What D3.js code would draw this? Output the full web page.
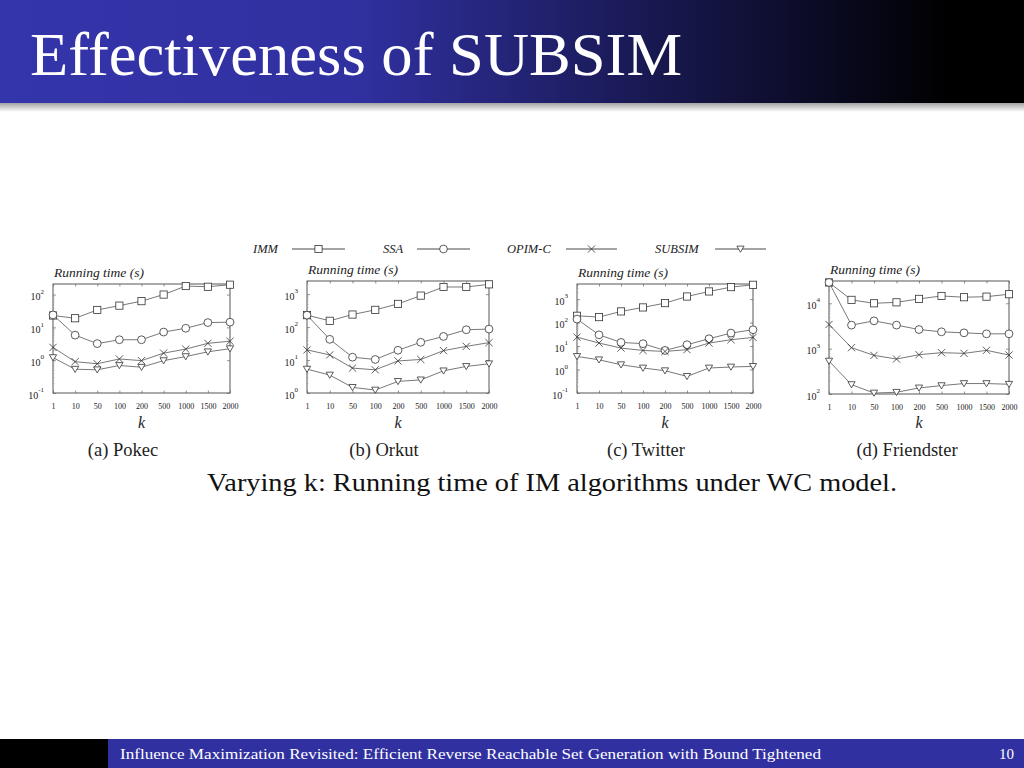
<!DOCTYPE html>
<html>
<head>
<meta charset="utf-8">
<script src="https://cdnjs.cloudflare.com/ajax/libs/d3/7.8.5/d3.min.js"></script>
<style>
  html, body { margin: 0; padding: 0; background: #fff; }
  svg { display: block; }
</style>
</head>
<body>
<svg id="slide" width="1024" height="768"></svg>
<script>
const K_LABELS = ['1', '10', '50', '100', '200', '500', '1000', '1500', '2000'];
const ALGOS = ['IMM', 'SSA', 'OPIM-C', 'SUBSIM'];
const MARKERS = ['square', 'circle', 'cross', 'triangle'];

// running time (s)
const POKEC = [
  [23, 19, 34, 46, 63, 100, 182, 173, 200],
  [24, 5.8, 3.2, 4.2, 4.2, 7.2, 9.4, 14, 14.4],
  [2.45, 0.9, 0.78, 1.09, 0.97, 1.64, 2.18, 3.27, 3.78],
  [1.2, 0.53, 0.51, 0.69, 0.61, 0.97, 1.29, 1.8, 2.24],
];
const ORKUT = [
  [230, 155, 240, 333, 505, 900, 1645, 1645, 1980],
  [230, 42.5, 12.2, 10.4, 19.8, 34.5, 52, 83, 87],
  [20.3, 14.3, 5.7, 5.05, 9.4, 10.4, 19.3, 26, 33.7],
  [5.3, 3.5, 1.48, 1.23, 2.25, 2.5, 4.7, 6.4, 7.7],
];
const TWITTER = [
  [195, 171, 299, 442, 676, 1290, 2120, 3240, 4070],
  [141, 30, 14.3, 12.6, 6.5, 11.4, 20.5, 35.7, 49.5],
  [24, 13.4, 8.2, 6.5, 5.9, 7.0, 13.4, 18.6, 23.4],
  [3.6, 2.6, 1.6, 1.16, 0.89, 0.51, 1.16, 1.28, 1.36],
];
const FRIENDSTER = [
  [28800, 11900, 10000, 10500, 12500, 14500, 13600, 14000, 15850],
  [28800, 3300, 4100, 3300, 2640, 2350, 2230, 2120, 2120],
  [3410, 1050, 710, 590, 735, 815, 787, 918, 723],
  [532, 161, 105, 109, 136, 153, 170, 170, 164],
];

const Y_DOMAINS = [[0.1, 210], [1, 2500], [0.1, 4400], [100, 31000]];
const CAPTIONS = ['(a) Pokec', '(b) Orkut', '(c) Twitter', '(d) Friendster'];

const panels = [
  { data: POKEC, box: [53, 284, 230, 393], cap: 123 },
  { data: ORKUT, box: [307, 281, 489, 393], cap: 384 },
  { data: TWITTER, box: [577, 284, 753, 393], cap: 646 },
  { data: FRIENDSTER, box: [829, 281, 1009, 394], cap: 907 },
];

const SERIF = '"Liberation Serif", "DejaVu Serif", serif';
const INK = '#333';
const svg = d3.select('#slide');

// ---- title bar ----
const defs = svg.append('defs');
const grad = defs.append('linearGradient').attr('id', 'tgrad');
grad.append('stop').attr('offset', '0%').attr('stop-color', '#3535ab');
grad.append('stop').attr('offset', '35%').attr('stop-color', '#3030a0');
grad.append('stop').attr('offset', '93%').attr('stop-color', '#000000');
grad.append('stop').attr('offset', '100%').attr('stop-color', '#000000');
const shadow = defs.append('linearGradient').attr('id', 'sgrad').attr('x1', 0).attr('x2', 0).attr('y1', 0).attr('y2', 1);
shadow.append('stop').attr('offset', '0%').attr('stop-color', '#999');
shadow.append('stop').attr('offset', '100%').attr('stop-color', '#fff');

svg.append('rect').attr('x', 0).attr('y', 102).attr('width', 1024).attr('height', 10).attr('fill', 'url(#sgrad)');
svg.append('rect').attr('x', 0).attr('y', 0).attr('width', 1024).attr('height', 103).attr('fill', 'url(#tgrad)');
svg.append('text').attr('x', 30).attr('y', 75)
  .attr('font-family', SERIF).attr('font-size', 62).attr('fill', '#fff')
  .attr('textLength', 652).attr('lengthAdjust', 'spacingAndGlyphs')
  .text('Effectiveness of SUBSIM');

// ---- footer ----
svg.append('rect').attr('x', 0).attr('y', 739).attr('width', 1024).attr('height', 29).attr('fill', '#3030a0');
svg.append('rect').attr('x', 0).attr('y', 739).attr('width', 108).attr('height', 29).attr('fill', '#000');
svg.append('text').attr('x', 120).attr('y', 759)
  .attr('font-family', SERIF).attr('font-size', 15).attr('fill', '#fff')
  .attr('textLength', 701).attr('lengthAdjust', 'spacingAndGlyphs')
  .text('Influence Maximization Revisited: Efficient Reverse Reachable Set Generation with Bound Tightened');
svg.append('text').attr('x', 1014).attr('y', 759).attr('text-anchor', 'end')
  .attr('font-family', SERIF).attr('font-size', 15).attr('fill', '#fff').text('10');

// ---- markers ----
function drawMarker(g, type, x, y) {
  const s = 3.6;
  let m;
  if (type === 'square') {
    m = g.append('rect').attr('x', x - s).attr('y', y - s).attr('width', 2 * s).attr('height', 2 * s);
  } else if (type === 'circle') {
    m = g.append('circle').attr('cx', x).attr('cy', y).attr('r', s + 0.3);
  } else if (type === 'cross') {
    m = g.append('path').attr('d', `M${x - s},${y - s}L${x + s},${y + s}M${x - s},${y + s}L${x + s},${y - s}`);
  } else {
    m = g.append('path').attr('d', `M${x - s},${y - s * 0.8}L${x + s},${y - s * 0.8}L${x},${y + s * 0.9}Z`);
  }
  m.attr('stroke', INK).attr('stroke-width', 0.8).attr('fill', type === 'cross' ? 'none' : '#fff');
}

// ---- legend ----
const legendX = [253, 383, 507, 655];
const legendLine = [[292, 345], [417, 470], [566, 617], [715, 766]];
ALGOS.forEach((a, i) => {
  const lg = svg.append('g');
  lg.append('text').attr('x', legendX[i]).attr('y', 253)
    .attr('font-family', SERIF).attr('font-style', 'italic').attr('font-size', 12.5).attr('fill', '#222').text(a);
  const [x0, x1] = legendLine[i];
  lg.append('line').attr('x1', x0).attr('x2', x1).attr('y1', 249).attr('y2', 249).attr('stroke', INK).attr('stroke-width', 0.9);
  drawMarker(lg, MARKERS[i], (x0 + x1) / 2, 249);
});

// ---- panels ----
panels.forEach((p, pi) => {
  const [L, T, R, B] = p.box;
  const g = svg.append('g');
  const x = d3.scalePoint().domain(K_LABELS).range([L, R]).padding(0);
  const y = d3.scaleLog().domain(Y_DOMAINS[pi]).range([B, T]);
  const [lo, hi] = Y_DOMAINS[pi];
  const majors = [];
  for (let v = lo; v <= hi * 1.0001; v *= 10) majors.push(v);
  const minors = [];
  majors.forEach(m => { for (let k = 2; k <= 9; k++) if (m * k < hi) minors.push(m * k); });

  // frame
  g.append('rect').attr('x', L).attr('y', T).attr('width', R - L).attr('height', B - T)
    .attr('fill', 'none').attr('stroke', '#444').attr('stroke-width', 0.9);

  // x axis ticks + labels
  const xa = g.append('g').attr('transform', `translate(0,${B})`)
    .call(d3.axisBottom(x).tickSize(-2.5).tickPadding(10));
  xa.select('.domain').remove();
  xa.selectAll('.tick line').attr('stroke', '#666').attr('stroke-width', 0.7);
  xa.selectAll('.tick text').attr('font-family', SERIF).attr('font-size', 8).attr('fill', '#222');
  const xt = g.append('g').attr('transform', `translate(0,${T})`)
    .call(d3.axisTop(x).tickSize(-2.5).tickFormat(''));
  xt.select('.domain').remove();
  xt.selectAll('.tick line').attr('stroke', '#666').attr('stroke-width', 0.7);

  // y axis: majors with 10^n labels, minor ticks
  const ya = g.append('g').attr('transform', `translate(${L},0)`)
    .call(d3.axisLeft(y).tickValues(majors).tickSize(-3).tickPadding(9).tickFormat(''));
  ya.select('.domain').remove();
  ya.selectAll('.tick line').attr('stroke', '#666').attr('stroke-width', 0.7);
  ya.selectAll('.tick text').attr('font-family', SERIF).attr('font-size', 10).attr('fill', '#222')
    .attr('dy', '0.5em')
    .each(function (d) {
      const t = d3.select(this);
      t.text('10');
      t.append('tspan').attr('font-size', 7).attr('dy', '-0.9em').text(Math.round(Math.log10(d)));
    });
  const ym = g.append('g').attr('transform', `translate(${L},0)`)
    .call(d3.axisLeft(y).tickValues(minors).tickSize(-1.5).tickFormat(''));
  ym.select('.domain').remove();
  ym.selectAll('.tick line').attr('stroke', '#888').attr('stroke-width', 0.5);
  const yr = g.append('g').attr('transform', `translate(${R},0)`)
    .call(d3.axisRight(y).tickValues(majors).tickSize(-3).tickFormat(''));
  yr.select('.domain').remove();
  yr.selectAll('.tick line').attr('stroke', '#666').attr('stroke-width', 0.7);

  // axis titles
  g.append('text').attr('x', L + 1).attr('y', T - 7)
    .attr('font-family', SERIF).attr('font-style', 'italic').attr('font-size', 13.5).attr('fill', '#222')
    .text('Running time (s)');
  g.append('text').attr('x', (L + R) / 2).attr('y', 428).attr('text-anchor', 'middle')
    .attr('font-family', SERIF).attr('font-style', 'italic').attr('font-size', 16).attr('fill', '#222').text('k');
  g.append('text').attr('x', p.cap).attr('y', 456).attr('text-anchor', 'middle')
    .attr('font-family', SERIF).attr('font-size', 18.5).attr('fill', '#222').text(CAPTIONS[pi]);

  // series
  const line = d3.line().x((d, i) => x(K_LABELS[i])).y(d => y(d));
  p.data.forEach(vals => {
    g.append('path').datum(vals).attr('d', line)
      .attr('fill', 'none').attr('stroke', '#555').attr('stroke-width', 0.8);
  });
  p.data.forEach((vals, si) => {
    vals.forEach((v, i) => drawMarker(g, MARKERS[si], x(K_LABELS[i]), y(v)));
  });
});

// ---- figure caption ----
svg.append('text').attr('x', 552).attr('y', 491).attr('text-anchor', 'middle')
  .attr('font-family', SERIF).attr('font-size', 26).attr('fill', '#111')
  .attr('textLength', 690).attr('lengthAdjust', 'spacingAndGlyphs')
  .text('Varying k: Running time of IM algorithms under WC model.');
</script>
</body>
</html>
